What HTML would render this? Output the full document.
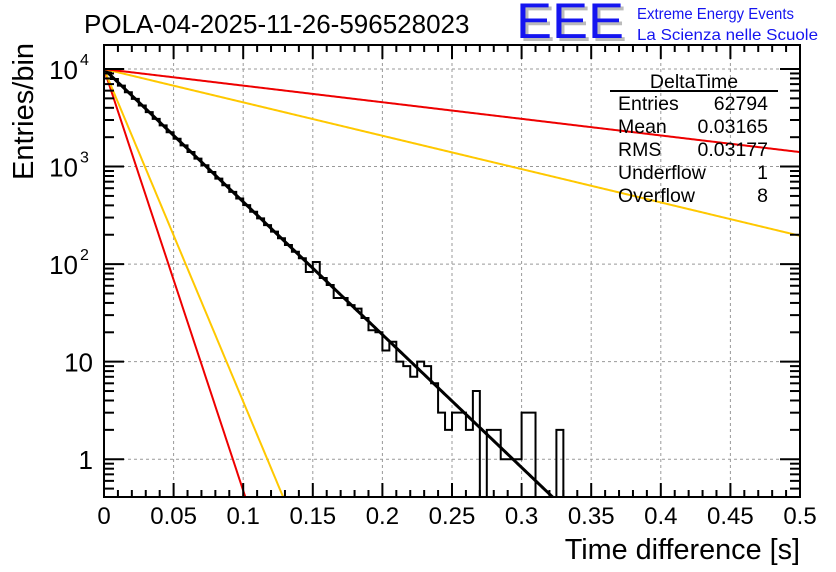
<!DOCTYPE html>
<html><head><meta charset="utf-8"><style>
body{margin:0;background:#fff;}
svg{display:block;font-family:"Liberation Sans",sans-serif;}
</style></head><body>
<svg id="c" width="836" height="572" viewBox="0 0 836 572">
<text x="84" y="33" font-size="26">POLA-04-2025-11-26-596528023</text>
<g>
<text x="519" y="41" font-size="50" fill="#bbb" textLength="108" lengthAdjust="spacingAndGlyphs">EEE</text>
<text x="516" y="38" font-size="50" fill="#1515f0" textLength="108" lengthAdjust="spacingAndGlyphs">EEE</text>
<text x="637" y="19" font-size="16" fill="#1515f0" textLength="157" lengthAdjust="spacingAndGlyphs">Extreme Energy Events</text>
<text x="637" y="40" font-size="16" fill="#1515f0" textLength="181" lengthAdjust="spacingAndGlyphs">La Scienza nelle Scuole</text>
</g>
<g id="grid"></g>
<g id="marks"></g>
<g id="axes"></g>
<g font-size="19.5">
<text x="694" y="88" text-anchor="middle">DeltaTime</text>
<line x1="610" y1="91" x2="778" y2="91" stroke="#000" stroke-width="2"/>
<text x="618" y="110">Entries</text><text x="768" y="110" text-anchor="end">62794</text>
<text x="618" y="133">Mean</text><text x="768" y="133" text-anchor="end">0.03165</text>
<text x="618" y="156">RMS</text><text x="768" y="156" text-anchor="end">0.03177</text>
<text x="618" y="179">Underflow</text><text x="768" y="179" text-anchor="end">1</text>
<text x="618" y="202">Overflow</text><text x="768" y="202" text-anchor="end">8</text>
</g>
<text x="800" y="559" font-size="28.8" text-anchor="end">Time difference [s]</text>
<text transform="translate(33,180) rotate(-90)" font-size="29">Entries/bin</text>
</svg>
<script>
const binWidth = 0.005;
const counts = [9250,7900,6760,5780,4940,4230,3610,3080,2640,2250,
1930,1650,1410,1205,1030,880,752,643,550,470,
402,344,294,251,215,184,157,134,115,83,
105,72,61,45,45,38,35,28,21,20,
13,16,10,9,7,10,9,6,3,2,
3,3,2,5,0,2,2,1,1,1,
3,3,0,0,0,2,0,0,0,0,
0,0,0,0,0,0,0,0,0,0,
0,0,0,0,0,0,0,0,0,0,
0,0,0,0,0,0,0,0,0,0];
const fitAmps = [10000,10000,10000,10000,10000];
const fitTaus = [0.01005,0.01274,0.0319,0.127,0.255];
const fitColors = ["#ee0000","#ffc800","#000","#ffc800","#ee0000"];
const xTicks = [0,0.05,0.1,0.15,0.2,0.25,0.3,0.35,0.4,0.45,0.5];
const xTickLabels = ["0","0.05","0.1","0.15","0.2","0.25","0.3","0.35","0.4","0.45","0.5"];
const yDecades = [0,1,2,3,4];

const L=104,R=800,T=45,B=497, X0=0,X1=0.5;
const LMIN=Math.log10(0.41), LMAX=4.246;
const sx=v=>L+(v-X0)/(X1-X0)*(R-L);
const sy=v=>{const l=v>0?Math.log10(v):LMIN; const c=Math.max(LMIN,Math.min(LMAX,l)); return B-(c-LMIN)/(LMAX-LMIN)*(B-T);};
const NS="http://www.w3.org/2000/svg";
function mk(tag,attrs,parent){const e=document.createElementNS(NS,tag);for(const k in attrs)e.setAttribute(k,attrs[k]);parent.appendChild(e);return e;}
const grid=document.getElementById('grid'),marks=document.getElementById('marks'),axes=document.getElementById('axes');

xTicks.forEach((t,i)=>{
 if(i>0&&i<xTicks.length-1){const g=mk('line',{x1:sx(t),x2:sx(t),y1:T,y2:B,stroke:'#999','stroke-dasharray':'3,3'},grid);
 
 }
 const tx=mk('text',{x:sx(t),y:524,'font-size':24,'text-anchor':'middle'},axes);tx.textContent=xTickLabels[i];
 
 
 mk('line',{x1:sx(t),x2:sx(t),y1:B,y2:B-14,stroke:'#000','stroke-width':2},axes);
 mk('line',{x1:sx(t),x2:sx(t),y1:T,y2:T+14,stroke:'#000','stroke-width':2},axes);
});
for(let v=0.01;v<0.5;v+=0.01){if(Math.abs(v*20-Math.round(v*20))<1e-6)continue;
 mk('line',{x1:sx(v),x2:sx(v),y1:B,y2:B-7,stroke:'#000','stroke-width':2},axes);
 mk('line',{x1:sx(v),x2:sx(v),y1:T,y2:T+7,stroke:'#000','stroke-width':2},axes);}
yDecades.forEach(d=>{
 const y=sy(Math.pow(10,d));
 const g=mk('line',{x1:L,x2:R,y1:y,y2:y,stroke:'#999','stroke-dasharray':'3,3'},grid);
 
 
 mk('line',{x1:L,x2:L+20,y1:y,y2:y,stroke:'#000','stroke-width':2},axes);
 mk('line',{x1:R,x2:R-20,y1:y,y2:y,stroke:'#000','stroke-width':2},axes);
 const tx=mk('text',{x:78,y:y+10,'font-size':26,'text-anchor':'end'},axes);
 
 
 if(d===0){tx.textContent='1';tx.setAttribute('x',93);}
 else if(d===1){tx.textContent='10';tx.setAttribute('x',93);}
 else{tx.textContent='10';const s=mk('text',{x:80,y:y-4,'font-size':16},axes);s.textContent=String(d);}
});
for(let d=-1;d<=4;d++)for(let m=2;m<=9;m++){const v=m*Math.pow(10,d);const l=Math.log10(v);if(l<LMIN||l>LMAX)continue;
 const y=sy(v);mk('line',{x1:L,x2:L+10,y1:y,y2:y,stroke:'#000','stroke-width':2},axes);
 mk('line',{x1:R,x2:R-10,y1:y,y2:y,stroke:'#000','stroke-width':2},axes);}

let d='M'+sx(0)+','+B;
counts.forEach((c,i)=>{const y=sy(c);d+=' L'+sx(i*binWidth)+','+y+' L'+sx((i+1)*binWidth)+','+y;});
d+=' L'+sx(counts.length*binWidth)+','+B;
const h=mk('path',{d:d,fill:'none',stroke:'#000','stroke-width':2},marks);



fitTaus.forEach((tau,k)=>{
 let pd='';
 for(let j=0;j<=400;j++){const x=j/400*X1;const v=fitAmps[k]*Math.exp(-x/tau);if(Math.log10(v)<LMIN)break;pd+=(pd?' L':'M')+sx(x).toFixed(2)+','+sy(v).toFixed(2);}
 const xe=tau*Math.log(fitAmps[k]/0.41); if(xe<X1)pd+=' L'+sx(xe).toFixed(2)+','+B;
 const p=mk('path',{d:pd,fill:'none',stroke:fitColors[k],'stroke-width':k===2?3:2},marks);
 
 
});
const fr=mk('rect',{x:L,y:T,width:R-L,height:B-T,fill:'none',stroke:'#000','stroke-width':2},axes);


</script>
</body></html>
